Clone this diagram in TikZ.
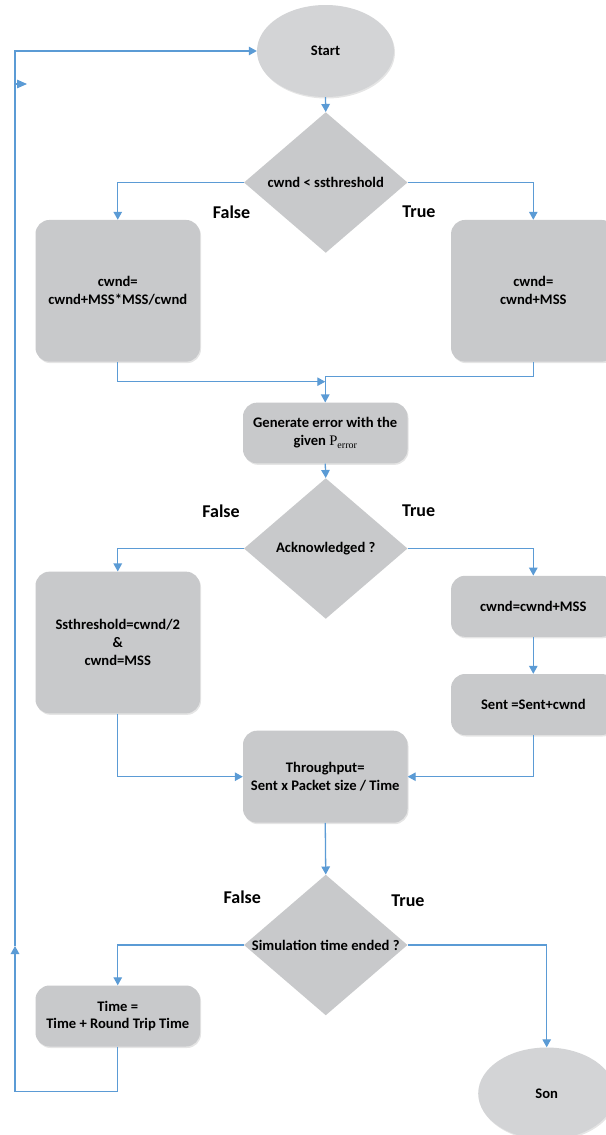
\documentclass[tikz,border=0pt]{standalone}
\usepackage{fontspec}
\setmainfont{Carlito}
\newfontfamily\serifpart{Liberation Serif}
\usetikzlibrary{shapes.geometric,arrows.meta,shadows}
\definecolor{boxgray}{HTML}{C8C9CB}
\definecolor{ellgray}{HTML}{D3D4D6}
\definecolor{lineblue}{HTML}{5B9BD5}
\newcommand\boxfont{\fontsize{14.6}{17.8}\selectfont\bfseries}
\newcommand\tflabfont{\fontsize{18}{21}\selectfont\bfseries}
\begin{document}
\begin{tikzpicture}[x=1pt,y=-1pt,
  softshadow/.style={drop shadow={shadow xshift=1pt,shadow yshift=-1.5pt,opacity=0.10,fill=black}},
  procbox/.style={rectangle,rounded corners=14pt,fill=boxgray,draw=none,align=center,
    font=\boxfont,inner sep=0pt,minimum width=164.5pt,softshadow},
  decision/.style={diamond,fill=boxgray,draw=none,inner sep=0pt,
    minimum width=163.5pt,minimum height=140.6pt},
  terminal/.style={ellipse,fill=ellgray,draw=none,inner sep=0pt,font=\boxfont,
    minimum width=137pt,minimum height=92pt,softshadow},
  flowline/.style={draw=lineblue,line width=1.3pt},
  flowarrow/.style={flowline,-{Triangle[length=8pt,width=8.5pt]}},
  tflab/.style={font=\tflabfont,inner sep=0pt}]
\useasboundingbox (0,0) rectangle (605,1135);
\fill[white] (0,0) rectangle (605,1135);

% nodes
\node[terminal] (start) at (325.5,51) {Start};
\node[decision,label={[font=\boxfont]center:cwnd < ssthreshold}] (d1) at (325.75,182.5) {};
\node[procbox,minimum height=141.7pt] (b1) at (117.75,290.8) {cwnd=\\cwnd+MSS*MSS/cwnd};
\node[procbox,minimum height=141.7pt] (b2) at (533.3,290.8) {cwnd=\\cwnd+MSS};
\node[procbox,minimum height=60.7pt] (gen) at (325.25,433) {Generate error with the\\given {\serifpart\mdseries P\raisebox{-0.35ex}{\fontsize{10}{10}\selectfont error}}};
\node[decision,label={[font=\boxfont]center:Acknowledged ?}] (d2) at (325.75,548.5) {};
\node[procbox,minimum height=141.7pt] (b3) at (117.75,642.5) {Ssthreshold=cwnd/2\\\&\\cwnd=MSS};
\node[procbox,minimum height=61pt] (b4) at (533.3,606.3) {cwnd=cwnd+MSS};
\node[procbox,minimum height=61pt] (b5) at (533.3,704.5) {Sent =Sent+cwnd};
\node[procbox,minimum height=92pt] (thr) at (325.25,776.7) {Throughput=\\Sent x Packet size / Time};
\node[decision,label={[font=\boxfont]center:Simulation time ended ?}] (d3) at (325.75,945) {};
\node[procbox,minimum height=61pt] (tm) at (117.75,1016) {Time =\\Time + Round Trip Time};
\node[terminal] (son) at (546.7,1093.5) {Son};

% branch labels
\node[tflab] (f1) at (231.5,212) {False};
\node[tflab] (t1) at (419,212) {True};
\node[tflab] (f2) at (221,511) {False};
\node[tflab] (t2) at (418.6,511) {True};
\node[tflab] (f3) at (242.3,897) {False};
\node[tflab] (t3) at (408,901) {True};

% helper coordinates
\coordinate (j1) at (325.25,381.7);
\coordinate (j2) at (325.25,376.7);
\coordinate (lb) at (15,1091.7);
\coordinate (lu) at (15,946);
\coordinate (lt) at (15,51);
\coordinate (sa) at (15,84);
\coordinate (sb) at (27,84);

% connectors
\draw[flowarrow] (start.south) -- (d1.north);
\draw[flowarrow] (d1.west) -| (b1.north);
\draw[flowarrow] (d1.east) -| (b2.north);
\draw[flowarrow] (b1.south) |- (j1);
\draw[flowline] (b2.south) |- (j2);
\draw[flowarrow] (j2) -- (gen.north);
\draw[flowarrow] (gen.south) -- (d2.north);
\draw[flowarrow] (d2.west) -| (b3.north);
\draw[flowarrow] (d2.east) -| (b4.north);
\draw[flowarrow] (b4.south) -- (b5.north);
\draw[flowarrow] (b3.south) |- (thr.west);
\draw[flowarrow] (b5.south) |- (thr.east);
\draw[flowarrow] (thr.south) -- (d3.north);
\draw[flowarrow] (d3.west) -| (tm.north);
\draw[flowarrow] (d3.east) -| (son.north);
\draw[flowarrow] (tm.south) |- (lb) -- (lu);
\draw[flowarrow] (lu) -- (lt) -- (start.west);
\draw[flowline,-{Triangle[length=10pt,width=8.5pt]}] (sa) -- (sb);
\end{tikzpicture}
\end{document}
